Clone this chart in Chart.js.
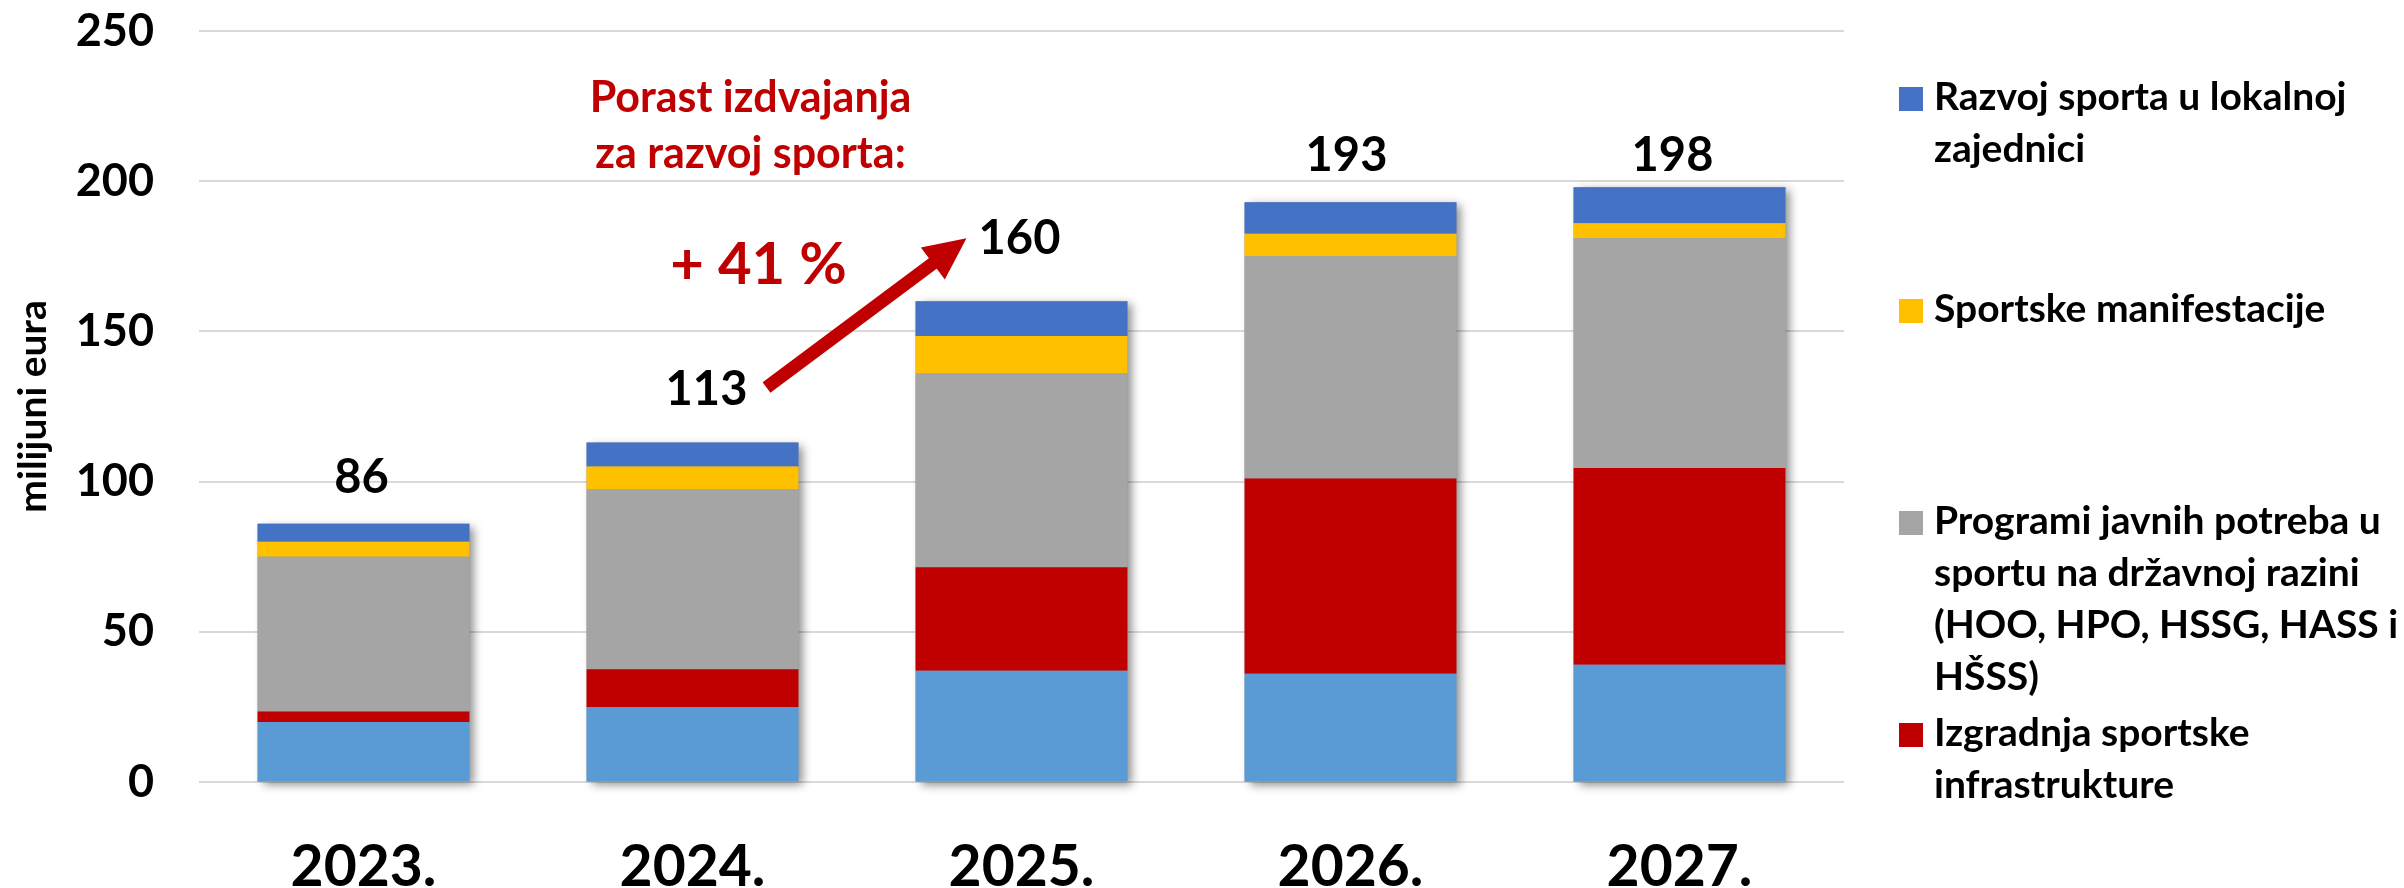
<!DOCTYPE html>
<html>
<head>
<meta charset="utf-8">
<script src="https://cdn.jsdelivr.net/npm/chart.js@4.4.1/dist/chart.umd.min.js"></script>
<style>
  html, body { margin: 0; padding: 0; background: #fff; }
  #wrap { width: 2404px; height: 888px; }
</style>
</head>
<body>
<div id="wrap"><canvas id="chart" width="2404" height="888"></canvas></div>
<script>
// values (milijuni eura)
const years = ['2023.', '2024.', '2025.', '2026.', '2027.'];
const baseBlue = [20, 25, 37, 36, 39];          // bottom series, no visible legend entry
const izgradnja = [3.5, 12.5, 34.5, 65, 65.5];
const programi = [51.5, 60, 64.5, 74, 76.5];
const manifestacije = [5, 7.5, 12.5, 7.5, 5];
const lokalno = [6, 8, 11.5, 10.5, 12];
const totals = [86, 113, 160, 193, 198];
const yTicks = [0, 50, 100, 150, 200, 250];

const FONT = 'Lato, "Open Sans", sans-serif';
const RED = '#C00000';

const legendItems = [
  { color: '#4472C4', lines: ['Razvoj sporta u lokalnoj', 'zajednici'] },
  { color: '#FFC000', lines: ['Sportske manifestacije'] },
  { color: '#A5A5A5', lines: ['Programi javnih potreba u', 'sportu na državnoj razini', '(HOO, HPO, HSSG, HASS i', 'HŠSS)'] },
  { color: RED, lines: ['Izgradnja sportske', 'infrastrukture'] }
];

// soft shadow behind each stacked column
const shadowPlugin = {
  id: 'colShadow',
  beforeDatasetsDraw(chart) {
    const ctx = chart.ctx;
    const y = chart.scales.y;
    const meta = chart.getDatasetMeta(0);
    ctx.save();
    meta.data.forEach((bar, i) => {
      const top = y.getPixelForValue(totals[i]);
      const bottom = y.getPixelForValue(0);
      ctx.shadowColor = 'rgba(0,0,0,0.45)';
      ctx.shadowBlur = 9;
      ctx.shadowOffsetX = 5;
      ctx.shadowOffsetY = 3;
      ctx.fillStyle = '#999';
      ctx.fillRect(bar.x - bar.width / 2, top, bar.width, bottom - top);
    });
    ctx.restore();
  }
};

// totals, annotation, arrow and legend
const extrasPlugin = {
  id: 'extras',
  afterDatasetsDraw(chart) {
    const ctx = chart.ctx;
    const y = chart.scales.y;
    const x = chart.scales.x;
    const lift = [31, 38, 47, 31, 16];
    const shift = [-2, 14, -2, -4, -7];
    ctx.save();
    ctx.fillStyle = '#000';
    ctx.font = 'bold 47px ' + FONT;
    ctx.textAlign = 'center';
    ctx.textBaseline = 'alphabetic';
    totals.forEach((t, i) => {
      ctx.fillText(String(t), x.getPixelForValue(i) + shift[i], y.getPixelForValue(t) - lift[i]);
    });

    // annotation text
    const c1 = x.getPixelForValue(1);
    const c2 = x.getPixelForValue(2);
    ctx.fillStyle = RED;
    ctx.font = 'bold 43px ' + FONT;
    ctx.fillText('Porast izdvajanja', c1 + 58, y.getPixelForValue(223));
    ctx.fillText('za razvoj sporta:', c1 + 58, y.getPixelForValue(204.3));
    ctx.font = 'bold 58px ' + FONT;
    ctx.fillText('+ 41 %', c1 + 66, y.getPixelForValue(165.7));

    // arrow from 113 towards 160
    const x0 = c1 + 74, y0 = y.getPixelForValue(totals[1]) - 55;
    const x1 = c2 - 55, y1 = y.getPixelForValue(totals[2]) - 63;
    const ang = Math.atan2(y1 - y0, x1 - x0);
    const headLen = 42, headHalf = 20;
    const bx = x1 - headLen * Math.cos(ang), by = y1 - headLen * Math.sin(ang);
    ctx.strokeStyle = RED;
    ctx.lineWidth = 13;
    ctx.lineCap = 'butt';
    ctx.beginPath();
    ctx.moveTo(x0, y0);
    ctx.lineTo(bx + 2 * Math.cos(ang), by + 2 * Math.sin(ang));
    ctx.stroke();
    ctx.beginPath();
    ctx.moveTo(x1, y1);
    ctx.lineTo(bx + headHalf * Math.sin(ang), by - headHalf * Math.cos(ang));
    ctx.lineTo(bx - headHalf * Math.sin(ang), by + headHalf * Math.cos(ang));
    ctx.closePath();
    ctx.fill();

    // legend
    const lx = chart.chartArea.right + 55;
    ctx.textAlign = 'left';
    ctx.font = 'bold 39px ' + FONT;
    legendItems.forEach((item, i) => {
      const base = 110 + 212 * i;
      ctx.fillStyle = item.color;
      ctx.fillRect(lx, base - 23, 24, 24);
      ctx.fillStyle = '#000';
      item.lines.forEach((ln, k) => {
        ctx.fillText(ln, lx + 35, base + 52 * k);
      });
    });
    ctx.restore();
  }
};

new Chart(document.getElementById('chart'), {
  type: 'bar',
  data: {
    labels: years,
    datasets: [
      { label: '', data: baseBlue, backgroundColor: '#5B9BD5' },
      { label: 'Izgradnja sportske infrastrukture', data: izgradnja, backgroundColor: RED },
      { label: 'Programi javnih potreba u sportu na državnoj razini (HOO, HPO, HSSG, HASS i HŠSS)', data: programi, backgroundColor: '#A5A5A5' },
      { label: 'Sportske manifestacije', data: manifestacije, backgroundColor: '#FFC000' },
      { label: 'Razvoj sporta u lokalnoj zajednici', data: lokalno, backgroundColor: '#4472C4' }
    ].map(d => Object.assign(d, { barPercentage: 0.644, categoryPercentage: 1, borderWidth: 0 }))
  },
  options: {
    responsive: false,
    animation: false,
    devicePixelRatio: 1,
    layout: { padding: { left: 0, top: 31, right: 560, bottom: 0 } },
    plugins: {
      legend: { display: false },
      tooltip: { enabled: false }
    },
    scales: {
      x: {
        stacked: true,
        grid: { display: false, drawTicks: false },
        border: { display: false },
        ticks: { color: '#000', font: { family: FONT, size: 57, weight: 'bold' }, padding: 51 },
        afterFit(scale) { scale.height = 106; }
      },
      y: {
        stacked: true,
        min: 0,
        max: 250,
        afterBuildTicks(scale) { scale.ticks = yTicks.map(v => ({ value: v })); },
        grid: { color: '#D9D9D9', lineWidth: 2, drawTicks: false },
        border: { display: false },
        ticks: { color: '#000', font: { family: FONT, size: 45, weight: 'bold' }, padding: 45 },
        title: {
          display: true,
          text: 'milijuni eura',
          color: '#000',
          font: { family: FONT, size: 39, weight: 'bold' },
          padding: { top: 10, bottom: 0 }
        },
        afterFit(scale) {
          scale.width = 199;
          scale.paddingTop = 0;
          scale.paddingBottom = 0;
        }
      }
    }
  },
  plugins: [shadowPlugin, extrasPlugin]
});
</script>
</body>
</html>
